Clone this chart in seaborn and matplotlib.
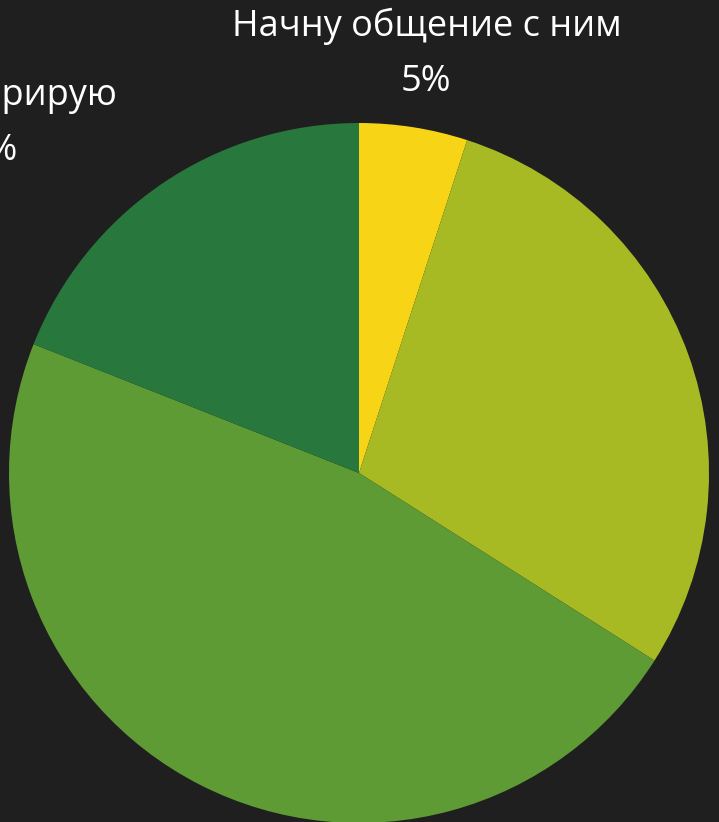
import numpy as np
import matplotlib
matplotlib.use("Agg")
import matplotlib.pyplot as plt
import seaborn as sns

# Data
labels = ["Начну общение с ним", "Отвечу вежливо", "Заблокирую", "Проигнорирую"]
shares = [5, 29, 47, 19]
colors = ["#F7D516", "#A8BA23", "#5F9B34", "#28773C"]

sns.set_theme(style="dark", rc={"figure.facecolor": "#1F1F1F",
                                "axes.facecolor": "#1F1F1F"})
plt.rcParams['font.family'] = ['Open Sans', 'DejaVu Sans']

fig = plt.figure(figsize=(7.19, 8.22), dpi=100)
ax = fig.add_axes([0, 0, 1, 1])

R = 350.0  # pie radius in pixels
ax.pie(shares, colors=colors, startangle=90, counterclock=False,
       radius=1, center=(0, 0), wedgeprops={"linewidth": 0})

ax.set_xlim(-359 / R, 360 / R)
ax.set_ylim(-349 / R, 473 / R)
ax.set_aspect("equal")
ax.axis("off")

# labels outside the pie, positioned at each slice's mid angle
cum = np.cumsum([0] + shares)
total = cum[-1]
for i, (name, val) in enumerate(zip(labels, shares)):
    mid = (cum[i] + cum[i + 1]) / 2 / total * 2 * np.pi
    dx, dy = np.sin(mid), np.cos(mid)
    x, y = 1.23 * dx, 1.23 * dy - 0.018
    if abs(dx) < 0.3:
        ha = "center"
    else:
        ha = "left" if dx > 0 else "right"
    va = "center" if dy > 0 else "top"
    ax.text(x, y, f"{name}\n{val}%", ha=ha, va=va, multialignment="center",
            color="white", fontsize=26, linespacing=1.7, clip_on=False)

fig.savefig("out.png", dpi=100, facecolor=fig.get_facecolor())
